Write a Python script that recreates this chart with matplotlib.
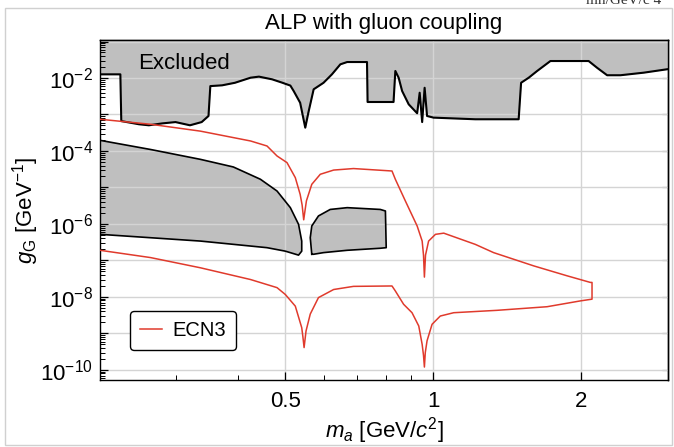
import matplotlib
matplotlib.use("Agg")
import matplotlib.pyplot as plt
import numpy as np
from matplotlib.ticker import FixedLocator, FuncFormatter, NullFormatter, LogLocator
from matplotlib.patches import Rectangle

plt.rcParams['font.family'] = ['Liberation Sans', 'DejaVu Sans']
plt.rcParams['mathtext.fontset'] = 'custom'
plt.rcParams['mathtext.rm'] = 'Liberation Sans'
plt.rcParams['mathtext.it'] = 'Liberation Sans:italic'

# ---- data ----
# upper "Excluded" boundary
exc_x = [0.210, 0.231, 0.232, 0.252, 0.264, 0.281, 0.299, 0.320, 0.338, 0.349, 0.352, 0.372,
         0.395, 0.425, 0.442, 0.470, 0.492, 0.512, 0.520, 0.536, 0.549, 0.557, 0.571, 0.598,
         0.622, 0.647, 0.668, 0.733, 0.735, 0.830, 0.837, 0.850, 0.864, 0.891, 0.927, 0.938,
         0.949, 0.960, 0.971, 1.001, 1.217, 1.491, 1.508, 1.563, 1.626, 1.730, 2.069, 2.152,
         2.256, 2.401, 2.678, 3.000]
exc_y = [1.26e-2, 1.26e-2, 6.6e-4, 5.4e-4, 5.06e-4, 5.7e-4, 6.2e-4, 5.06e-4, 6.2e-4, 9.1e-4,
         6.0e-3, 6.3e-3, 7.4e-3, 1.02e-2, 1.09e-2, 9.2e-3, 7.5e-3, 6.2e-3, 4.4e-3, 2.1e-3,
         4.35e-4, 1.12e-3, 4.9e-3, 7.4e-3, 1.26e-2, 2.37e-2, 2.74e-2, 2.74e-2, 2.2e-3, 2.2e-3,
         1.56e-2, 1.02e-2, 4.4e-3, 1.9e-3, 1.08e-3, 3.95e-3, 6.2e-4, 5.4e-3, 9.1e-4, 8.2e-4,
         7.4e-4, 7.4e-4, 7.4e-3, 1.02e-2, 1.56e-2, 2.92e-2, 2.92e-2, 1.91e-2, 1.19e-2, 1.19e-2,
         1.40e-2, 1.75e-2]

# lower excluded region (left part)
beam_x = [0.210, 0.266, 0.336, 0.392, 0.445, 0.481, 0.512, 0.532, 0.540, 0.540, 0.532,
          0.500, 0.459, 0.336, 0.266, 0.210]
beam_y = [1.96e-4, 1.1e-4, 5.9e-5, 3.65e-5, 1.68e-5, 8.0e-6, 2.8e-6, 9.8e-7, 3.4e-7, 1.8e-7,
          1.4e-7, 1.8e-7, 2.24e-7, 3.4e-7, 4.2e-7, 5.2e-7]

# lower excluded island
isl_x = [0.566, 0.562, 0.566, 0.584, 0.617, 0.668, 0.780, 0.799, 0.802, 0.780, 0.668, 0.598,
         0.571, 0.566]
isl_y = [1.48e-7, 4.2e-7, 8.8e-7, 1.66e-6, 2.5e-6, 2.8e-6, 2.5e-6, 2.27e-6, 2.24e-7, 2.16e-7,
         1.9e-7, 1.64e-7, 1.48e-7, 1.48e-7]

# ECN3 sensitivity contour: upper branch (left->right)
ecn_up_x = [0.210, 0.266, 0.336, 0.425, 0.459, 0.481, 0.504, 0.524, 0.536, 0.541, 0.545,
            0.549, 0.552, 0.566, 0.589, 0.627, 0.688, 0.824, 0.837, 0.877, 0.927, 0.949,
            0.955, 0.959, 0.964, 0.978, 1.010, 1.050, 1.217, 1.326, 1.600, 1.870, 2.086, 2.102]
ecn_up_y = [7.4e-4, 5.4e-4, 3.5e-4, 1.88e-4, 1.37e-4, 7.3e-5, 4.8e-5, 1.86e-5, 6.5e-6, 3.3e-6,
            1.3e-6, 2.6e-6, 4.3e-6, 1.22e-5, 2.3e-5, 3.0e-5, 3.3e-5, 2.83e-5, 1.68e-5, 4.3e-6,
            8.8e-7, 3.4e-7, 1.4e-7, 3.5e-8, 1.4e-7, 3.4e-7, 5.2e-7, 5.6e-7, 2.76e-7, 1.64e-7,
            7.1e-8, 3.8e-8, 2.5e-8, 2.5e-8]
# lower branch (right->left)
ecn_lo_x = [2.102, 1.991, 1.703, 1.347, 1.100, 1.033, 0.994, 0.971, 0.963, 0.959, 0.955,
            0.949, 0.934, 0.905, 0.870, 0.837, 0.824, 0.688, 0.627, 0.584, 0.562, 0.551,
            0.546, 0.543, 0.540, 0.524, 0.500, 0.481, 0.425, 0.336, 0.266, 0.210]
ecn_lo_y = [8.7e-9, 7.8e-9, 5.4e-9, 4.3e-9, 3.7e-9, 3.0e-9, 1.78e-9, 6.3e-10, 3.0e-10, 1.2e-10,
            2.5e-10, 5.0e-10, 1.6e-9, 3.7e-9, 6.3e-9, 1.46e-8, 2.0e-8, 1.95e-8, 1.6e-8, 9.6e-9,
            3.4e-9, 1.17e-9, 4.1e-10, 8.0e-10, 1.44e-9, 5.6e-9, 1.17e-8, 1.8e-8, 3.0e-8, 6.3e-8,
            1.2e-7, 1.9e-7]

x_major = [0.5, 1, 2]
x_minor = [0.3, 0.4, 0.6, 0.7, 0.8, 0.9]
x_top = [0.3, 0.4, 0.5, 0.6, 0.7, 0.8, 0.9, 1, 1.5, 2]
x_labels = ['0.5', '1', '2']

GRAY = '#bfbfbf'
RED = '#e03a2c'

fig = plt.figure(figsize=(6.74, 4.47), dpi=100)
ax = fig.add_axes([100/674, 67/447, 568/674, 340/447])
ax.set_xscale('log')
ax.set_yscale('log')
ax.set_xlim(0.21, 3.0)
ax.set_ylim(5.3e-11, 0.11)

# fills
ax.fill_between(exc_x, exc_y, 1.0, color=GRAY, lw=0, zorder=1)
ax.fill(beam_x, beam_y, color=GRAY, lw=0, zorder=1)
ax.fill(isl_x, isl_y, color=GRAY, lw=0, zorder=1)

# grid
for xv in x_major:
    ax.axvline(xv, color='#d4d4d4', lw=1.0, zorder=1.5)
for e in range(-11, 0):
    ax.axhline(10.0**e, color='#d4d4d4', lw=1.0, zorder=1.5)

# outlines
ax.plot(exc_x, exc_y, color='black', lw=1.5, zorder=3)
ax.plot(beam_x, beam_y, color='black', lw=1.2, zorder=3)
ax.plot(isl_x, isl_y, color='black', lw=1.2, zorder=3)

ecn_x = ecn_up_x + ecn_lo_x
ecn_y = ecn_up_y + ecn_lo_y
ax.plot(ecn_x, ecn_y, color=RED, lw=1.1, zorder=4, label='ECN3')

ax.text(0.251, 2.57e-2, 'Excluded', fontsize=16, va='center', ha='left', zorder=5)

# ticks
ax.xaxis.set_major_locator(FixedLocator(x_major))
ax.xaxis.set_major_formatter(FuncFormatter(lambda v, p: x_labels[x_major.index(v)] if v in x_major else ''))
ax.xaxis.set_minor_locator(FixedLocator(x_minor))
ax.xaxis.set_minor_formatter(NullFormatter())

ax.yaxis.set_major_locator(LogLocator(base=10, numticks=30))
def yfmt(v, p):
    e = int(round(np.log10(v)))
    return r'$10^{%d}$' % e if e % 2 == 0 else ''
ax.yaxis.set_major_formatter(FuncFormatter(yfmt))
ax.yaxis.set_minor_locator(LogLocator(base=10, subs=np.arange(2, 10), numticks=30))
ax.yaxis.set_minor_formatter(NullFormatter())

ax.tick_params(axis='y', which='major', direction='in', length=6, width=0.9, labelsize=16,
               right=False, pad=5)
ax.tick_params(axis='x', which='major', direction='in', length=6, width=0.9, labelsize=16,
               top=False, pad=8)
ax.tick_params(which='minor', direction='in', length=3.5, width=0.7,
               top=False, right=False)

sec = ax.secondary_xaxis('top')
sec.set_xticks(x_top)
sec.xaxis.set_minor_locator(FixedLocator([]))
sec.tick_params(direction='in', length=3.5, width=0.8, labeltop=False)
secy = ax.secondary_yaxis('right')
secy.yaxis.set_major_locator(LogLocator(base=10, numticks=30))
secy.yaxis.set_minor_locator(FixedLocator([]))
secy.tick_params(direction='in', length=4, width=0.8, labelright=False)

for s in ax.spines.values():
    s.set_linewidth(1.0)
sec.spines['top'].set_linewidth(1.0)
secy.spines['right'].set_linewidth(1.0)

ax.set_xlabel(r'$m_a$ [GeV/$c^2$]', fontsize=16)
ax.xaxis.set_label_coords(0.5, -0.104)
ax.xaxis.label.set_va('top')
ax.set_ylabel(r'$g_{\rm G}$ [GeV$^{-1}$]', fontsize=16)
ax.yaxis.set_label_coords(-0.104, 0.5)
ax.set_title('ALP with gluon coupling', fontsize=16, pad=8)

leg = ax.legend(loc='lower left', bbox_to_anchor=(0.053, 0.088), fontsize=14.5,
                frameon=True, fancybox=True, edgecolor='black', framealpha=1,
                handlelength=1.1, handletextpad=0.5, borderpad=0.5, borderaxespad=0)
leg.get_frame().set_linewidth(1.0)

# page border and clipped header text
fig.patches.append(Rectangle((5/674, 2/447), 667/674, 437/447, transform=fig.transFigure,
                             fill=False, edgecolor='#d0d0d0', lw=1.0))
fig.text(0.87, 1.0, 'mn/GeV/c 4', fontsize=11, family='Liberation Serif',
         va='center', ha='left', color='#333333')

fig.savefig('out.png', dpi=100)
